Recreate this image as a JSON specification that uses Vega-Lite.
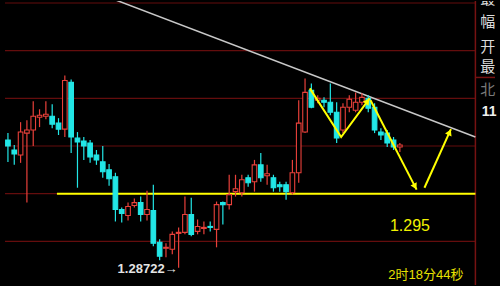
{
  "$schema": "https://vega.github.io/schema/vega-lite/v6.json",
  "width": 500,
  "height": 286,
  "autosize": {"type": "fit", "contains": "padding"},
  "padding": 0,
  "background": "#000000",
  "config": {"view": {"stroke": null}},
  "datasets": {
    "candles": [
      {"i": 0, "open": 1.30062, "high": 1.30135, "low": 1.29833, "close": 1.30000},
      {"i": 1, "open": 1.29958, "high": 1.30010, "low": 1.29802, "close": 1.29917},
      {"i": 2, "open": 1.29906, "high": 1.30250, "low": 1.29823, "close": 1.30146},
      {"i": 3, "open": 1.30135, "high": 1.30271, "low": 1.29406, "close": 1.30167},
      {"i": 4, "open": 1.30167, "high": 1.30469, "low": 1.30000, "close": 1.30312},
      {"i": 5, "open": 1.30302, "high": 1.30385, "low": 1.30198, "close": 1.30323},
      {"i": 6, "open": 1.30312, "high": 1.30469, "low": 1.30281, "close": 1.30333},
      {"i": 7, "open": 1.30312, "high": 1.30437, "low": 1.30187, "close": 1.30229},
      {"i": 8, "open": 1.30240, "high": 1.30292, "low": 1.30115, "close": 1.30177},
      {"i": 9, "open": 1.30177, "high": 1.30740, "low": 1.30094, "close": 1.30687},
      {"i": 10, "open": 1.30667, "high": 1.30698, "low": 1.29927, "close": 1.30094},
      {"i": 11, "open": 1.30083, "high": 1.30146, "low": 1.29562, "close": 1.30042},
      {"i": 12, "open": 1.30052, "high": 1.30094, "low": 1.29854, "close": 1.30000},
      {"i": 13, "open": 1.30031, "high": 1.30062, "low": 1.29823, "close": 1.29885},
      {"i": 14, "open": 1.29906, "high": 1.29958, "low": 1.29802, "close": 1.29854},
      {"i": 15, "open": 1.29833, "high": 1.30000, "low": 1.29667, "close": 1.29729},
      {"i": 16, "open": 1.29750, "high": 1.29812, "low": 1.29583, "close": 1.29656},
      {"i": 17, "open": 1.29677, "high": 1.29719, "low": 1.29208, "close": 1.29333},
      {"i": 18, "open": 1.29333, "high": 1.29354, "low": 1.29198, "close": 1.29292},
      {"i": 19, "open": 1.29271, "high": 1.29406, "low": 1.29219, "close": 1.29365},
      {"i": 20, "open": 1.29375, "high": 1.29448, "low": 1.29354, "close": 1.29406},
      {"i": 21, "open": 1.29406, "high": 1.29469, "low": 1.29208, "close": 1.29281},
      {"i": 22, "open": 1.29281, "high": 1.29531, "low": 1.29219, "close": 1.29333},
      {"i": 23, "open": 1.29323, "high": 1.29594, "low": 1.28948, "close": 1.28979},
      {"i": 24, "open": 1.28990, "high": 1.29021, "low": 1.28802, "close": 1.28844},
      {"i": 25, "open": 1.28927, "high": 1.28979, "low": 1.28833, "close": 1.28937},
      {"i": 26, "open": 1.28917, "high": 1.29104, "low": 1.28865, "close": 1.29073},
      {"i": 27, "open": 1.29083, "high": 1.29146, "low": 1.28722, "close": 1.29094},
      {"i": 28, "open": 1.29094, "high": 1.29469, "low": 1.29073, "close": 1.29281},
      {"i": 29, "open": 1.29281, "high": 1.29458, "low": 1.29052, "close": 1.29073},
      {"i": 30, "open": 1.29104, "high": 1.29229, "low": 1.29073, "close": 1.29156},
      {"i": 31, "open": 1.29135, "high": 1.29208, "low": 1.29073, "close": 1.29146},
      {"i": 32, "open": 1.29156, "high": 1.29208, "low": 1.29104, "close": 1.29146},
      {"i": 33, "open": 1.29125, "high": 1.29417, "low": 1.28937, "close": 1.29385},
      {"i": 34, "open": 1.29406, "high": 1.29417, "low": 1.29177, "close": 1.29385},
      {"i": 35, "open": 1.29385, "high": 1.29698, "low": 1.29333, "close": 1.29490},
      {"i": 36, "open": 1.29521, "high": 1.29698, "low": 1.29469, "close": 1.29552},
      {"i": 37, "open": 1.29510, "high": 1.29698, "low": 1.29469, "close": 1.29646},
      {"i": 38, "open": 1.29667, "high": 1.29698, "low": 1.29573, "close": 1.29615},
      {"i": 39, "open": 1.29625, "high": 1.29854, "low": 1.29521, "close": 1.29802},
      {"i": 40, "open": 1.29802, "high": 1.29927, "low": 1.29625, "close": 1.29667},
      {"i": 41, "open": 1.29687, "high": 1.29802, "low": 1.29594, "close": 1.29708},
      {"i": 42, "open": 1.29667, "high": 1.29698, "low": 1.29521, "close": 1.29562},
      {"i": 43, "open": 1.29594, "high": 1.29625, "low": 1.29521, "close": 1.29573},
      {"i": 44, "open": 1.29594, "high": 1.29625, "low": 1.29437, "close": 1.29521},
      {"i": 45, "open": 1.29510, "high": 1.29854, "low": 1.29490, "close": 1.29719},
      {"i": 46, "open": 1.29719, "high": 1.30479, "low": 1.29615, "close": 1.30240},
      {"i": 47, "open": 1.30146, "high": 1.30708, "low": 1.30135, "close": 1.30562},
      {"i": 48, "open": 1.30583, "high": 1.30656, "low": 1.30396, "close": 1.30406},
      {"i": 49, "open": 1.30479, "high": 1.30531, "low": 1.30448, "close": 1.30500},
      {"i": 50, "open": 1.30479, "high": 1.30510, "low": 1.30406, "close": 1.30458},
      {"i": 51, "open": 1.30458, "high": 1.30656, "low": 1.30323, "close": 1.30354},
      {"i": 52, "open": 1.30354, "high": 1.30458, "low": 1.30031, "close": 1.30083},
      {"i": 53, "open": 1.30167, "high": 1.30448, "low": 1.30135, "close": 1.30406},
      {"i": 54, "open": 1.30406, "high": 1.30531, "low": 1.30354, "close": 1.30490},
      {"i": 55, "open": 1.30375, "high": 1.30562, "low": 1.30354, "close": 1.30458},
      {"i": 56, "open": 1.30458, "high": 1.30552, "low": 1.30427, "close": 1.30510},
      {"i": 57, "open": 1.30500, "high": 1.30531, "low": 1.30354, "close": 1.30396},
      {"i": 58, "open": 1.30406, "high": 1.30448, "low": 1.30135, "close": 1.30167},
      {"i": 59, "open": 1.30146, "high": 1.30187, "low": 1.30062, "close": 1.30115},
      {"i": 60, "open": 1.30135, "high": 1.30167, "low": 1.29990, "close": 1.30031},
      {"i": 61, "open": 1.30062, "high": 1.30094, "low": 1.29958, "close": 1.29990},
      {"i": 62, "open": 1.29990, "high": 1.30031, "low": 1.29937, "close": 1.30010}
    ],
    "grid": [
      {"price": 1.290}, {"price": 1.295}, {"price": 1.300},
      {"price": 1.305}, {"price": 1.310}, {"price": 1.315}
    ],
    "trend": [
      {"i": 16.9, "price": 1.31535},
      {"i": 73.95, "price": 1.30094}
    ],
    "zigzag": [
      {"seg": "a", "k": 0, "i": 47.75, "price": 1.30604},
      {"seg": "a", "k": 1, "i": 52.71, "price": 1.30094},
      {"seg": "a", "k": 2, "i": 57.21, "price": 1.30500},
      {"seg": "b", "k": 0, "i": 57.36, "price": 1.30479},
      {"seg": "b", "k": 1, "i": 64.65, "price": 1.29542},
      {"seg": "c", "k": 0, "i": 65.89, "price": 1.29562},
      {"seg": "c", "k": 1, "i": 70.08, "price": 1.30177}
    ],
    "tips": [
      {"seg": "a", "i": 56.88, "price": 1.30471},
      {"seg": "b", "i": 64.40, "price": 1.29574},
      {"seg": "c", "i": 69.86, "price": 1.30144}
    ],
    "side": [
      {"i": 74.73, "price": 1.31542, "label": "最", "tone": "w"},
      {"i": 74.73, "price": 1.31297, "label": "幅", "tone": "w"},
      {"i": 74.73, "price": 1.31042, "label": "开", "tone": "w"},
      {"i": 74.73, "price": 1.30833, "label": "最", "tone": "w"},
      {"i": 74.73, "price": 1.30583, "label": "北", "tone": "g"}
    ]
  },
  "layer": [
    {
      "data": {"name": "grid"},
      "mark": {"type": "rule", "color": "#640d0d", "strokeWidth": 1.2},
      "encoding": {
        "x": {"datum": -0.465, "type": "quantitative", "scale": {"domain": [-0.465, 77.05], "nice": false, "zero": false}, "axis": null},
        "x2": {"datum": 73.95},
        "y": {"field": "price", "type": "quantitative", "scale": {"domain": [1.285417, 1.315208], "nice": false, "zero": false}, "axis": null}
      }
    },
    {
      "data": {"values": [{"i": 73.95}]},
      "mark": {"type": "rule", "color": "#761212", "strokeWidth": 1.5},
      "encoding": {
        "x": {"field": "i", "type": "quantitative", "scale": {"domain": [-0.465, 77.05], "nice": false, "zero": false}, "axis": null}
      }
    },
    {
      "data": {"values": [{"i": 73.95, "i2": 77.05, "price": 1.30719}]},
      "mark": {"type": "rule", "color": "#761212", "strokeWidth": 1.5},
      "encoding": {
        "x": {"field": "i", "type": "quantitative", "scale": {"domain": [-0.465, 77.05], "nice": false, "zero": false}, "axis": null},
        "x2": {"field": "i2"},
        "y": {"field": "price", "type": "quantitative", "scale": {"domain": [1.285417, 1.315208], "nice": false, "zero": false}, "axis": null}
      }
    },
    {
      "data": {"name": "trend"},
      "mark": {"type": "line", "color": "#c8c8c8", "strokeWidth": 1.5, "clip": true},
      "encoding": {
        "x": {"field": "i", "type": "quantitative", "scale": {"domain": [-0.465, 77.05], "nice": false, "zero": false}, "axis": null},
        "y": {"field": "price", "type": "quantitative", "scale": {"domain": [1.285417, 1.315208], "nice": false, "zero": false}, "axis": null}
      }
    },
    {
      "data": {"values": [{"i": 7.75, "i2": 73.95, "price": 1.295}]},
      "mark": {"type": "rule", "color": "#ffff00", "strokeWidth": 2},
      "encoding": {
        "x": {"field": "i", "type": "quantitative", "scale": {"domain": [-0.465, 77.05], "nice": false, "zero": false}, "axis": null},
        "x2": {"field": "i2"},
        "y": {"field": "price", "type": "quantitative", "scale": {"domain": [1.285417, 1.315208], "nice": false, "zero": false}, "axis": null}
      }
    },
    {
      "data": {"name": "candles"},
      "mark": {"type": "rule", "strokeWidth": 1.2},
      "encoding": {
        "x": {"field": "i", "type": "quantitative", "scale": {"domain": [-0.465, 77.05], "nice": false, "zero": false}, "axis": null},
        "y": {"field": "low", "type": "quantitative", "scale": {"domain": [1.285417, 1.315208], "nice": false, "zero": false}, "axis": null},
        "y2": {"field": "high"},
        "color": {"condition": {"test": "datum.close >= datum.open", "value": "#e8403a"}, "value": "#22e6e6"}
      }
    },
    {
      "data": {"name": "candles"},
      "mark": {"type": "bar", "width": 4.6, "strokeWidth": 1.1},
      "encoding": {
        "x": {"field": "i", "type": "quantitative", "scale": {"domain": [-0.465, 77.05], "nice": false, "zero": false}, "axis": null},
        "y": {"field": "open", "type": "quantitative", "scale": {"domain": [1.285417, 1.315208], "nice": false, "zero": false}, "axis": null},
        "y2": {"field": "close"},
        "fill": {"condition": {"test": "datum.close >= datum.open", "value": "#000000"}, "value": "#22e6e6"},
        "stroke": {"condition": {"test": "datum.close >= datum.open", "value": "#e8403a"}, "value": "#22e6e6"}
      }
    },
    {
      "data": {"name": "zigzag"},
      "mark": {"type": "line", "color": "#ffff00", "strokeWidth": 2},
      "encoding": {
        "x": {"field": "i", "type": "quantitative", "scale": {"domain": [-0.465, 77.05], "nice": false, "zero": false}, "axis": null},
        "y": {"field": "price", "type": "quantitative", "scale": {"domain": [1.285417, 1.315208], "nice": false, "zero": false}, "axis": null},
        "detail": {"field": "seg"},
        "order": {"field": "k"}
      }
    },
    {
      "data": {"name": "tips"},
      "transform": [{"filter": "datum.seg == 'a'"}],
      "mark": {"type": "point", "shape": "triangle-up", "filled": true, "color": "#ffff00", "opacity": 1, "size": 50, "angle": 37},
      "encoding": {
        "x": {"field": "i", "type": "quantitative", "scale": {"domain": [-0.465, 77.05], "nice": false, "zero": false}, "axis": null},
        "y": {"field": "price", "type": "quantitative", "scale": {"domain": [1.285417, 1.315208], "nice": false, "zero": false}, "axis": null}
      }
    },
    {
      "data": {"name": "tips"},
      "transform": [{"filter": "datum.seg == 'b'"}],
      "mark": {"type": "point", "shape": "triangle-up", "filled": true, "color": "#ffff00", "opacity": 1, "size": 50, "angle": 152},
      "encoding": {
        "x": {"field": "i", "type": "quantitative", "scale": {"domain": [-0.465, 77.05], "nice": false, "zero": false}, "axis": null},
        "y": {"field": "price", "type": "quantitative", "scale": {"domain": [1.285417, 1.315208], "nice": false, "zero": false}, "axis": null}
      }
    },
    {
      "data": {"name": "tips"},
      "transform": [{"filter": "datum.seg == 'c'"}],
      "mark": {"type": "point", "shape": "triangle-up", "filled": true, "color": "#ffff00", "opacity": 1, "size": 50, "angle": 24},
      "encoding": {
        "x": {"field": "i", "type": "quantitative", "scale": {"domain": [-0.465, 77.05], "nice": false, "zero": false}, "axis": null},
        "y": {"field": "price", "type": "quantitative", "scale": {"domain": [1.285417, 1.315208], "nice": false, "zero": false}, "axis": null}
      }
    },
    {
      "data": {"values": [{"i": 27, "price": 1.28722, "label": "1.28722→"}]},
      "mark": {"type": "text", "align": "right", "baseline": "middle", "dx": -1, "dy": 1, "font": "Liberation Sans", "fontSize": 13, "fontWeight": "bold", "color": "#e4e4e4"},
      "encoding": {
        "x": {"field": "i", "type": "quantitative", "scale": {"domain": [-0.465, 77.05], "nice": false, "zero": false}, "axis": null},
        "y": {"field": "price", "type": "quantitative", "scale": {"domain": [1.285417, 1.315208], "nice": false, "zero": false}, "axis": null},
        "text": {"field": "label"}
      }
    },
    {
      "data": {"values": [{"i": 63.6, "price": 1.29163, "label": "1.295"}]},
      "mark": {"type": "text", "align": "center", "baseline": "middle", "font": "Liberation Sans", "fontSize": 16, "color": "#f2f200"},
      "encoding": {
        "x": {"field": "i", "type": "quantitative", "scale": {"domain": [-0.465, 77.05], "nice": false, "zero": false}, "axis": null},
        "y": {"field": "price", "type": "quantitative", "scale": {"domain": [1.285417, 1.315208], "nice": false, "zero": false}, "axis": null},
        "text": {"field": "label"}
      }
    },
    {
      "data": {"values": [{"i": 66.12, "price": 1.28646, "label": "2时18分44秒"}]},
      "mark": {"type": "text", "align": "center", "baseline": "middle", "font": "Liberation Sans, Noto Sans CJK SC", "fontSize": 13, "color": "#e8e000", "clip": true},
      "encoding": {
        "x": {"field": "i", "type": "quantitative", "scale": {"domain": [-0.465, 77.05], "nice": false, "zero": false}, "axis": null},
        "y": {"field": "price", "type": "quantitative", "scale": {"domain": [1.285417, 1.315208], "nice": false, "zero": false}, "axis": null},
        "text": {"field": "label"}
      }
    },
    {
      "data": {"name": "side"},
      "mark": {"type": "text", "align": "left", "baseline": "middle", "font": "Noto Sans CJK SC", "fontSize": 15, "clip": true},
      "encoding": {
        "x": {"field": "i", "type": "quantitative", "scale": {"domain": [-0.465, 77.05], "nice": false, "zero": false}, "axis": null},
        "y": {"field": "price", "type": "quantitative", "scale": {"domain": [1.285417, 1.315208], "nice": false, "zero": false}, "axis": null},
        "text": {"field": "label"},
        "color": {"condition": {"test": "datum.tone == 'g'", "value": "#7a7a7a"}, "value": "#dcdcdc"}
      }
    },
    {
      "data": {"values": [{"i": 74.95, "price": 1.30354, "label": "11"}]},
      "mark": {"type": "text", "align": "left", "baseline": "middle", "font": "Liberation Sans", "fontSize": 14, "fontWeight": "bold", "color": "#f0f0f0", "clip": true},
      "encoding": {
        "x": {"field": "i", "type": "quantitative", "scale": {"domain": [-0.465, 77.05], "nice": false, "zero": false}, "axis": null},
        "y": {"field": "price", "type": "quantitative", "scale": {"domain": [1.285417, 1.315208], "nice": false, "zero": false}, "axis": null},
        "text": {"field": "label"}
      }
    }
  ]
}
